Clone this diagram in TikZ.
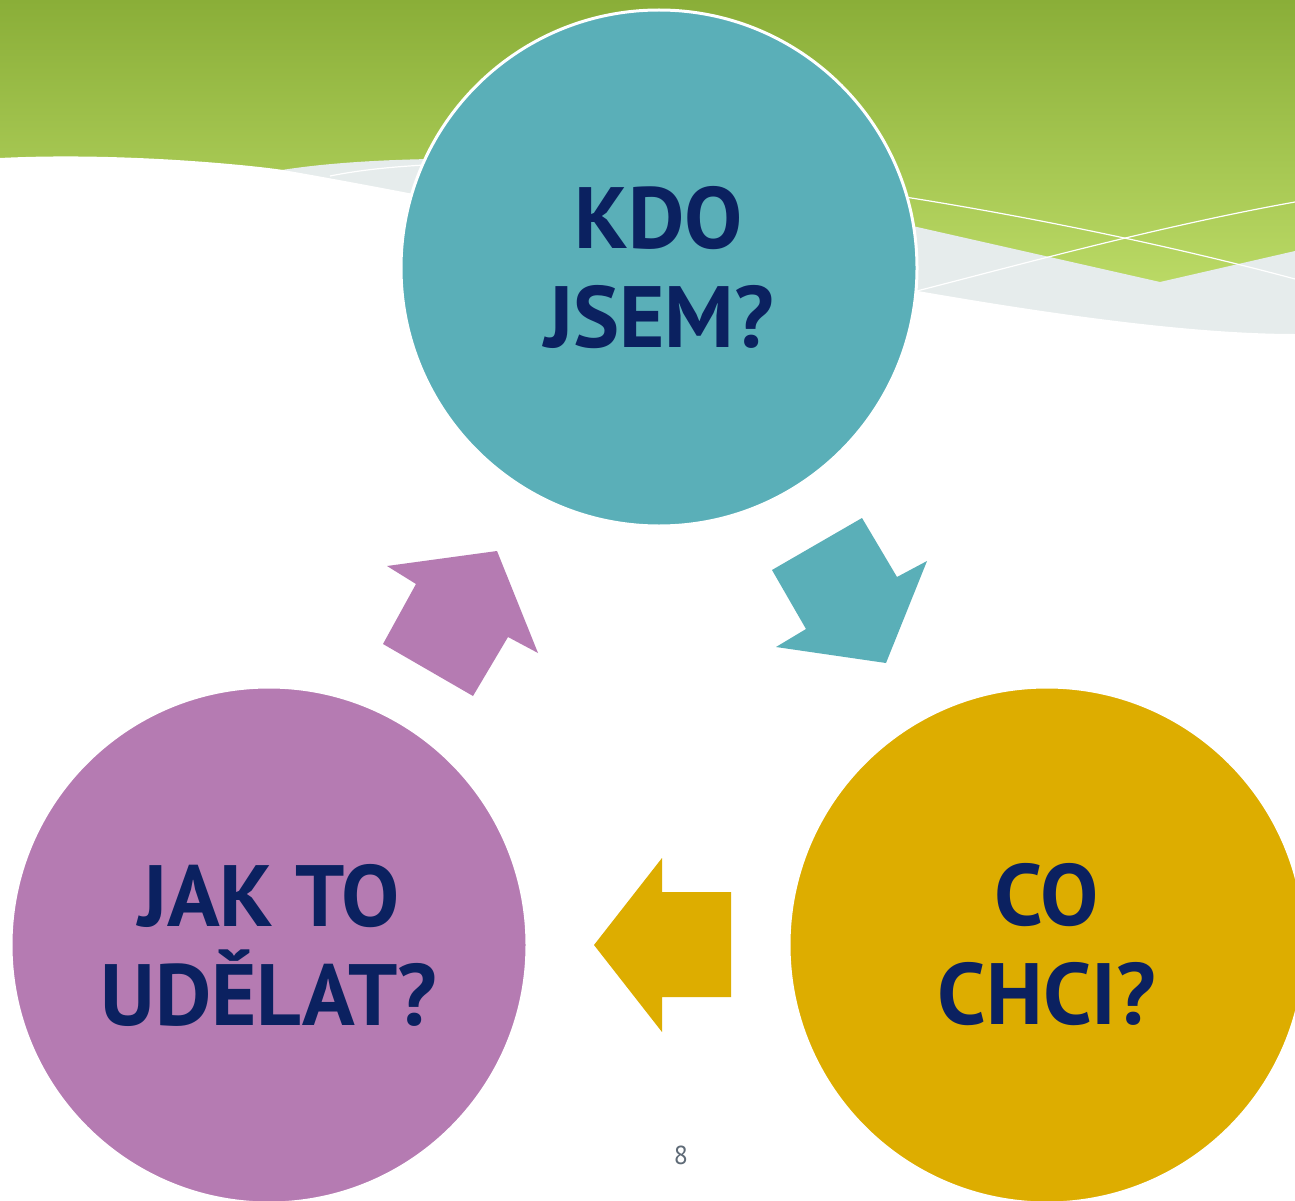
\documentclass[tikz,border=0pt]{standalone}
\usepackage{fontspec}
\setmainfont{PT Sans}
\usetikzlibrary{positioning}
\definecolor{topgreen}{HTML}{8AAE38}
\definecolor{lowgreen}{HTML}{C4E26E}
\definecolor{mist}{HTML}{E6ECEC}
\definecolor{tealc}{HTML}{5AAFB8}
\definecolor{plum}{HTML}{B57BB2}
\definecolor{gold}{HTML}{DDAD00}
\definecolor{navy}{HTML}{0B2160}
\definecolor{pagegray}{HTML}{5F6B77}

\begin{document}
\begin{tikzpicture}[x=1pt, y=-1pt, wave/.style={white, line width=1.2pt}]
\tikzstyle{bubble}=[circle, draw=white, line width=3pt, minimum size=516pt, inner sep=0pt]
\tikzstyle{question}=[text=navy, font=\bfseries\fontsize{87}{99}\selectfont, align=center]
\useasboundingbox (0,0) rectangle (1295,1201);
\clip (0,0) rectangle (1295,1201);
% background band
\shade[top color=topgreen, bottom color=lowgreen] (0,0) rectangle (1295,340);
\fill[mist] (270,172) .. controls (320,163) and (380,160) .. (430,159) -- (660,165) -- (917,227) -- (1160,282) -- (1295,251) -- (1295,400) -- (270,400) -- cycle;
\draw[wave] (330,176) .. controls (360,170) and (390,167) .. (425,165);
\draw[wave] (905,197) .. controls (1000,212) and (1150,240) .. (1295,279);
\draw[wave] (905,294) .. controls (1000,270) and (1150,228) .. (1295,202);
\fill[white] (0,158) .. controls (120,152) and (250,165) .. (283,170) .. controls (600,225) and (1050,334) .. (1295,334) -- (1295,1201) -- (0,1201) -- cycle;
% circles
\node[bubble, fill=tealc, question] (kdo) at (659,268) {KDO\\JSEM?};
\node[bubble, fill=gold, question] (chci) at (1047,945) {CO\\CHCI?};
\node[bubble, fill=plum, question] (jak) at (269,945) {JAK TO\\UDĚLAT?};
% arrows
\fill[tealc] (862,518) -- (897,577) -- (927,561) -- (886,663) -- (776,647) -- (806,629) -- (772,570) -- cycle;
\fill[gold] (594,945) -- (662,858) -- (662,892) -- (731,892) -- (731,997) -- (662,997) -- (662,1032) -- cycle;
\fill[plum] (497,551) -- (538,653) -- (508,637) -- (473,696) -- (383,644) -- (416,584) -- (387,566) -- cycle;
\node[text=pagegray, font=\fontsize{26}{30}\selectfont] (pg) at (681,1155) {8};
\end{tikzpicture}
\end{document}
